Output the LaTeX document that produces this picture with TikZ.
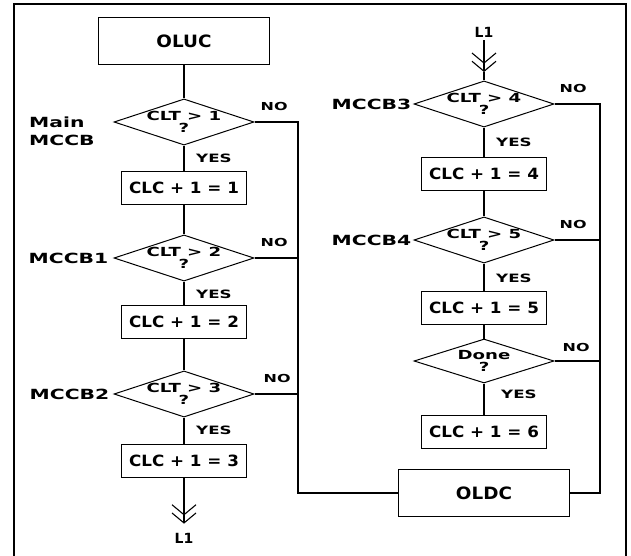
\documentclass[tikz,border=0pt]{standalone}
\usepackage{fontspec}
\setmainfont{DejaVu Sans}
\newfontfamily\boxfont{DejaVu Sans}[FakeStretch=1.08]
\newfontfamily\lblfont{DejaVu Sans}[FakeStretch=1.45]
\usetikzlibrary{shapes.geometric, arrows.meta, positioning}
\tikzstyle{mainbox} = [
    rectangle,
    minimum width=171pt,
    minimum height=47pt,
    inner sep=0pt,
    draw=black,
    line width=1.2pt,
    font=\boxfont\bfseries\fontsize{17}{20}\selectfont
]
\tikzstyle{process} = [
    rectangle,
    minimum width=125pt,
    minimum height=33pt,
    inner sep=0pt,
    draw=black,
    line width=1.2pt,
    font=\boxfont\bfseries\fontsize{15.5}{18}\selectfont
]
\tikzstyle{decision} = [
    diamond,
    shape aspect=3,
    minimum width=140pt,
    minimum height=44pt,
    inner sep=0pt,
    align=center,
    draw=black,
    line width=1pt,
    font=\lblfont\bfseries\fontsize{12.5}{12}\selectfont
]
\tikzstyle{mccb} = [
    inner sep=0pt,
    align=left,
    font=\lblfont\bfseries\fontsize{14}{18}\selectfont
]
\tikzstyle{yes} = [
    inner sep=0pt,
    font=\lblfont\bfseries\fontsize{11.5}{13}\selectfont
]
\tikzstyle{no} = [
    inner sep=0pt,
    font=\lblfont\bfseries\fontsize{11}{13}\selectfont
]
\tikzstyle{link} = [
    inner sep=0pt,
    font=\bfseries\fontsize{14}{16}\selectfont
]
\tikzstyle{line} = [line width=1.2pt]
\tikzstyle{arrow} = [
    line width=1.1pt,
    -{Straight Barb[length=10pt,width=24pt,sep=-3pt]Straight Barb[length=10pt,width=24pt]}
]

\begin{document}
\begin{tikzpicture}[x=1pt, y=1pt, node distance=66pt]
\useasboundingbox (0,0) rectangle (631,-556);

% frame
\draw [line width=1.4pt] (14,-560) |- (626,-4) -- (626,-560);

% left column
\node (oluc) [mainbox] at (184,-41) {OLUC};

\node (d1) [decision, below of=oluc, node distance=81pt]
{CLT > 1\\?};

\node (b1) [process, below of=d1]
{CLC + 1 = 1};

\node (d2) [decision, below of=b1, node distance=70pt]
{CLT > 2\\?};

\node (b2) [process, below of=d2, node distance=64pt]
{CLC + 1 = 2};

\node (d3) [decision, below of=b2, node distance=72pt]
{CLT > 3\\?};

\node (b3) [process, below of=d3, node distance=67pt]
{CLC + 1 = 3};

\node (l1b) [link, below of=b3, node distance=77pt] {L1};

% right column
\node (l1t) [link] at (484,-32) {L1};
\coordinate [below of=l1t, node distance=40pt] (chev);

\node (d4) [decision, below of=l1t, node distance=72pt]
{CLT > 4\\?};

\node (b4) [process, below of=d4, node distance=70pt]
{CLC + 1 = 4};

\node (d5) [decision, below of=b4]
{CLT > 5\\?};

\node (b5) [process, below of=d5, node distance=68pt]
{CLC + 1 = 5};

\node (d6) [decision, below of=b5, node distance=53pt]
{Done\\?};

\node (b6) [process, below of=d6, node distance=71pt]
{CLC + 1 = 6};

\node (oldc) [mainbox, below of=b6, node distance=61pt] {OLDC};

% side labels
\node (lmain) [mccb, anchor=west] at (29,-131) {Main\\MCCB};
\node (lm1) [mccb, left=5pt of d2.west] {MCCB1};
\node (lm2) [mccb, left=4pt of d3.west] {MCCB2};
\node (lm3) [mccb, left=2pt of d4.west] {MCCB3};
\node (lm4) [mccb, left=2pt of d5.west] {MCCB4};

\node (no1) [no, above right=11pt and 6pt of d1.east] {NO};
\node (no2) [no, above right=11pt and 6pt of d2.east] {NO};
\node (no3) [no, above right=11pt and 9pt of d3.east] {NO};
\node (no4) [no, above right=11pt and 5pt of d4.east] {NO};
\node (no5) [no, above right=11pt and 5pt of d5.east] {NO};
\node (no6) [no, above right=9pt and 8pt of d6.east] {NO};

\node (yes1) [yes, below right=8pt and 12pt of d1.south] {YES};
\node (yes2) [yes, below right=8pt and 12pt of d2.south] {YES};
\node (yes3) [yes, below right=8pt and 12pt of d3.south] {YES};
\node (yes4) [yes, below right=10pt and 12pt of d4.south] {YES};
\node (yes5) [yes, below right=10pt and 12pt of d5.south] {YES};
\node (yes6) [yes, below right=6pt and 17pt of d6.south] {YES};

\coordinate (busl) at (298,0);
\coordinate (busr) at (600,0);

\draw [line] (oluc) -- (d1);
\draw [line] (d1) -- (b1);
\draw [line] (b1) -- (d2);
\draw [line] (d2) -- (b2);
\draw [line] (b2) -- (d3);
\draw [line] (d3) -- (b3);
\draw [arrow, shorten >=9pt] (b3) -- (l1b);

\draw [arrow, shorten <=3pt] (l1t) -- (chev);
\draw [line] (chev) -- (d4);
\draw [line] (d4) -- (b4);
\draw [line] (b4) -- (d5);
\draw [line] (d5) -- (b5);
\draw [line] (b5) -- (d6);
\draw [line] (d6) -- (b6);

\draw [line] (d1.east) -- (d1.east -| busl) -- (oldc.west -| busl) -- (oldc.west);
\draw [line] (d2.east) -- (d2.east -| busl);
\draw [line] (d3.east) -- (d3.east -| busl);

\draw [line] (d4.east) -- (d4.east -| busr) -- (oldc.east -| busr) -- (oldc.east);
\draw [line] (d5.east) -- (d5.east -| busr);
\draw [line] (d6.east) -- (d6.east -| busr);

\end{tikzpicture}
\end{document}
